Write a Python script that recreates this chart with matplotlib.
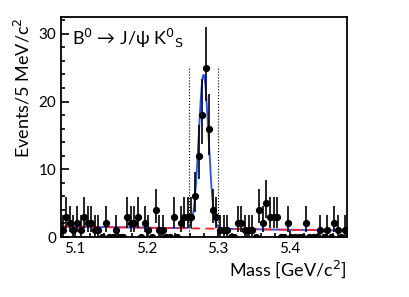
import math
import numpy as np
import matplotlib
matplotlib.use("Agg")
import matplotlib.pyplot as plt
from matplotlib.ticker import MultipleLocator

# 5 MeV bins from 5.08 to 5.48 GeV
bin_lo = 5.08
bin_w = 0.005
counts = [1, 3, 2, 1, 2, 1, 3, 2, 2, 1,
          1, 0, 2, 0, 0, 1, 0, 0, 3, 2,
          2, 3, 0, 2, 1, 0, 4, 1, 1, 0,
          0, 3, 0, 2, 3, 3, 3, 6, 12, 18,
          25, 16, 4, 3, 1, 1, 1, 0, 0, 2,
          2, 1, 1, 1, 0, 4, 2, 5, 3, 3,
          3, 0, 0, 2, 0, 0, 0, 0, 2, 0,
          0, 0, 1, 0, 1, 0, 2, 1, 0, 1]

# fit result (gaussian + linear background)
sig_mean = 5.2796
sig_width = 0.0068
sig_amp = 22.7
bkg_left = 1.55
bkg_right = 0.95
window = [5.2596, 5.2996]

x_ticks = [5.1, 5.2, 5.3, 5.4]
y_ticks = [0, 10, 20, 30]


def pois_cdf(k, mu):
    return sum(math.exp(-mu) * mu**i / math.factorial(i) for i in range(k + 1))


def garwood(n, cl=0.1587):
    # classic poisson interval, no bar drawn for empty bins
    if n == 0:
        return 0.0, 0.0
    a, b = 0.0, n
    for _ in range(60):
        m = 0.5 * (a + b)
        if 1 - pois_cdf(n - 1, m) < cl:
            a = m
        else:
            b = m
    lo = 0.5 * (a + b)
    a, b = n, n + 10 + 3 * math.sqrt(n + 1)
    for _ in range(60):
        m = 0.5 * (a + b)
        if pois_cdf(n, m) > cl:
            a = m
        else:
            b = m
    hi = 0.5 * (a + b)
    return n - lo, hi - n


centers = bin_lo + bin_w * (np.arange(len(counts)) + 0.5)
errs = np.array([garwood(n) for n in counts]).T

xf = np.linspace(bin_lo, bin_lo + bin_w * len(counts), 800)
bkg = bkg_left + (bkg_right - bkg_left) * (xf - xf[0]) / (xf[-1] - xf[0])
total = bkg + sig_amp * np.exp(-0.5 * ((xf - sig_mean) / sig_width) ** 2)

plt.rcParams['font.family'] = ['Lato', 'DejaVu Sans']

fig = plt.figure(figsize=(4.09, 2.97), dpi=100)
ax = fig.add_axes([0.149, 0.202, 0.699, 0.741])

ax.errorbar(centers, counts, yerr=errs, fmt='o', color='black', ms=4.2,
            elinewidth=1.2, capsize=0, zorder=3)
ax.plot(xf, total, color='#2050ff', lw=1.3, zorder=2)
ax.plot(xf, bkg, color='#ff2020', lw=1.3, ls=(0, (5, 3)), zorder=2)
for w in window:
    ax.plot([w, w], [0, 25.2], color='black', lw=0.8, ls=':', zorder=1)

ax.set_xlim(bin_lo, bin_lo + bin_w * len(counts))
ax.set_ylim(0, 32.5)
ax.set_xticks(x_ticks)
ax.set_yticks(y_ticks)
ax.xaxis.set_minor_locator(MultipleLocator(0.02))
ax.yaxis.set_minor_locator(MultipleLocator(2))
ax.tick_params(which='both', direction='in', labelsize=11, width=1.2)
ax.tick_params(which='major', length=6)
ax.tick_params(which='minor', length=3)
for s in ax.spines.values():
    s.set_linewidth(1.3)

ax.set_xlabel('Mass [GeV/c$^2$]', fontsize=13, loc='right', labelpad=2)
ax.set_ylabel('Events/5 MeV/c$^2$', fontsize=13, loc='top', labelpad=4)
ax.text(0.04, 0.9, 'B$^0$ \u2192 J/\u03c8 K$^0$$_{\\rm S}$', transform=ax.transAxes,
        fontsize=13, va='center', ha='left')

fig.savefig('out.png', dpi=100)
